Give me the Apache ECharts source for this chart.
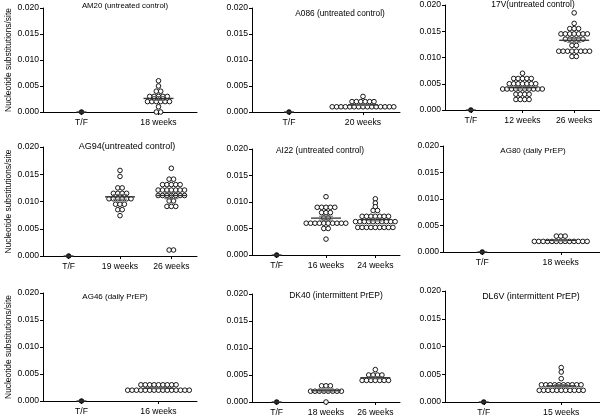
<!DOCTYPE html>
<html><head><meta charset="utf-8">
<script src="https://cdn.jsdelivr.net/npm/echarts@6/dist/echarts.min.js"></script>
<style>html,body{margin:0;padding:0;background:#fff}#c{width:600px;height:420px}</style>
</head><body><div id="c"></div><script>
// ---- data: [value, count] pairs ----
const yTicks = [0, 0.005, 0.010, 0.015, 0.020];
const tfValues = [[0, 1]];

const am20Cats = ['T/F', '18 weeks'];
const am20Wk18 = [[0.006,1],[0.005,1],[0.004,2],[0.003,5],[0.002,6],[0.001,1],[0,2]];

const a086Cats = ['T/F', '20 weeks'];
const a086Wk20 = [[0.003,1],[0.002,6],[0.001,15]];

const v17Cats = ['T/F', '12 weeks', '26 weeks'];
const v17Wk12 = [[0.007,1],[0.006,5],[0.005,7],[0.004,10],[0.003,4],[0.002,4]];
const v17Wk26 = [[0.0185,1],[0.0165,1],[0.0155,3],[0.0145,7],[0.0135,5],[0.0123,2],[0.0112,8],[0.0102,2]];

const ag94Cats = ['T/F', '19 weeks', '26 weeks'];
const ag94Wk19 = [[0.0157,1],[0.0146,1],[0.0125,2],[0.0115,4],[0.0105,6],[0.0095,3],[0.0085,2],[0.0074,1]];
const ag94Wk26 = [[0.0161,1],[0.0141,2],[0.0131,5],[0.0121,7],[0.0111,7],[0.0101,2],[0.0091,3],[0.0011,2]];

const ai22Cats = ['T/F', '16 weeks', '24 weeks'];
const ai22Wk16 = [[0.011,1],[0.009,5],[0.008,3],[0.007,2],[0.006,10],[0.005,2],[0.003,1]];
const ai22Wk24 = [[0.0106,1],[0.0098,1],[0.0091,1],[0.0084,2],[0.0073,7],[0.0063,10],[0.0052,9]];

const ag80Cats = ['T/F', '18 weeks'];
const ag80Wk18 = [[0.003,3],[0.002,13]];

const ag46Cats = ['T/F', '16 weeks'];
const ag46Wk16 = [[0.003,9],[0.002,15]];

const dk40Cats = ['T/F', '18 weeks', '26 weeks'];
const dk40Wk18 = [[0.003,3],[0.002,8],[0,1]];
const dk40Wk26 = [[0.006,1],[0.005,4],[0.004,7]];

const dl6vCats = ['T/F', '15 weeks'];
const dl6vWk15 = [[0.0062,1],[0.0054,1],[0.0042,1],[0.0031,10],[0.0021,11]];

const titles = ['AM20 (untreated control)','A086 (untreated control)','17V(untreated control)',
  'AG94(untreated control)','AI22 (untreated control)','AG80 (daily PrEP)',
  'AG46 (daily PrEP)','DK40 (intermittent PrEP)','DL6V (intermittent PrEP)'];
const yName = 'Nucleotide substitutions/site';

const panels = [
  {cats: am20Cats, groups: [tfValues, am20Wk18]},
  {cats: a086Cats, groups: [tfValues, a086Wk20]},
  {cats: v17Cats, groups: [tfValues, v17Wk12, v17Wk26]},
  {cats: ag94Cats, groups: [tfValues, ag94Wk19, ag94Wk26]},
  {cats: ai22Cats, groups: [tfValues, ai22Wk16, ai22Wk24]},
  {cats: ag80Cats, groups: [tfValues, ag80Wk18]},
  {cats: ag46Cats, groups: [tfValues, ag46Wk16]},
  {cats: dk40Cats, groups: [tfValues, dk40Wk18, dk40Wk26]},
  {cats: dl6vCats, groups: [tfValues, dl6vWk15]}
];

// ---- layout (positions/styles) ----
const layout = [
  {left:43, top:8, width:154, height:104, tx:125, ty:6, fs:7.8},
  {left:252, top:8, width:148, height:104, tx:340, ty:14, fs:8.3},
  {left:445, top:5, width:155, height:105, tx:533, ty:5, fs:8.4},
  {left:43, top:147, width:154, height:109, tx:127, ty:147, fs:9},
  {left:252, top:149, width:148, height:106, tx:320, ty:151, fs:8.4},
  {left:443, top:146, width:157, height:106, tx:533, ty:151, fs:8},
  {left:43, top:293, width:154, height:108, tx:115, ty:297, fs:8},
  {left:252, top:294, width:148, height:108, tx:336, ty:296, fs:8.5},
  {left:445, top:291, width:155, height:111, tx:531, ty:297, fs:8.9}
];
const FONT = '"Liberation Sans", Arial, Helvetica, sans-serif';
const SP = 4.4;

const grid = [], xAxis = [], yAxis = [], series = [], graphic = [];
panels.forEach((p, i) => {
  const L = layout[i];
  grid.push({left:L.left, top:L.top, width:L.width, height:L.height});
  xAxis.push({
    type:'category', gridIndex:i, data:p.cats, boundaryGap:true,
    axisLine:{show:true, lineStyle:{color:'#000', width:1}},
    axisTick:{show:true, alignWithLabel:true, length:3, lineStyle:{color:'#000'}},
    axisLabel:{color:'#000', fontSize:8.6, fontFamily:FONT, margin:6, interval:0},
    splitLine:{show:false}
  });
  yAxis.push({
    type:'value', gridIndex:i, min:yTicks[0], max:yTicks[yTicks.length-1], interval:yTicks[1]-yTicks[0],
    axisLine:{show:true, lineStyle:{color:'#000', width:1}},
    axisTick:{show:true, length:3, lineStyle:{color:'#000'}},
    axisLabel:{color:'#000', fontSize:8.6, fontFamily:FONT, margin:4, formatter:v => v.toFixed(3)},
    splitLine:{show:false},
    name: (i % 3 === 0) ? yName : '', nameLocation:'middle', nameGap:30,
    nameTextStyle:{color:'#000', fontSize:8.4, fontFamily:FONT}
  });
  const pts = [], stats = [];
  p.groups.forEach((g, c) => {
    const vals = [];
    g.forEach(([v, n]) => {
      for (let k = 0; k < n; k++) {
        const item = {value:[c, v], symbolOffset:[(k - (n - 1) / 2) * SP, 0]};
        if (c === 0) item.itemStyle = {color:'#222'};
        pts.push(item);
        vals.push(v);
      }
    });
    const m = vals.reduce((a, b) => a + b, 0) / vals.length;
    let sem = 0;
    if (vals.length > 1) {
      const sd = Math.sqrt(vals.reduce((a, b) => a + (b - m) * (b - m), 0) / (vals.length - 1));
      sem = sd / Math.sqrt(vals.length);
    }
    stats.push([c, m, sem]);
  });
  series.push({
    type:'scatter', xAxisIndex:i, yAxisIndex:i, data:pts, symbol:'circle', symbolSize:4.6,
    itemStyle:{color:'#fff', borderColor:'#000', borderWidth:0.9, opacity:1}, silent:true, z:2
  });
  series.push({
    type:'custom', xAxisIndex:i, yAxisIndex:i, data:stats, z:3, silent:true, clip:false,
    encode:{x:0, y:1},
    renderItem:function(params, api){
      const c = api.value(0), m = api.value(1), s = api.value(2);
      const pt = api.coord([c, m]);
      const hw = c === 0 ? 5 : 15;
      const ch = [{type:'line', shape:{x1:pt[0]-hw, y1:pt[1], x2:pt[0]+hw, y2:pt[1]},
                   style:{stroke:'#333', lineWidth:1.3}}];
      if (s > 0) {
        const hi = api.coord([c, m + s]), lo = api.coord([c, m - s]);
        ch.push({type:'line', shape:{x1:pt[0], y1:hi[1], x2:pt[0], y2:lo[1]}, style:{stroke:'#666', lineWidth:1}});
        ch.push({type:'line', shape:{x1:pt[0]-7, y1:hi[1], x2:pt[0]+7, y2:hi[1]}, style:{stroke:'#666', lineWidth:1}});
        ch.push({type:'line', shape:{x1:pt[0]-7, y1:lo[1], x2:pt[0]+7, y2:lo[1]}, style:{stroke:'#666', lineWidth:1}});
      }
      return {type:'group', children:ch};
    }
  });
  graphic.push({type:'text', x:L.tx, y:L.ty, silent:true,
    style:{text:titles[i], fill:'#000', font:L.fs + 'px ' + FONT, textAlign:'center', textVerticalAlign:'middle'}});
});

const chart = echarts.init(document.getElementById('c'), null, {renderer:'canvas'});
chart.setOption({animation:false, backgroundColor:'#fff', grid, xAxis, yAxis, series, graphic});
</script></body></html>
